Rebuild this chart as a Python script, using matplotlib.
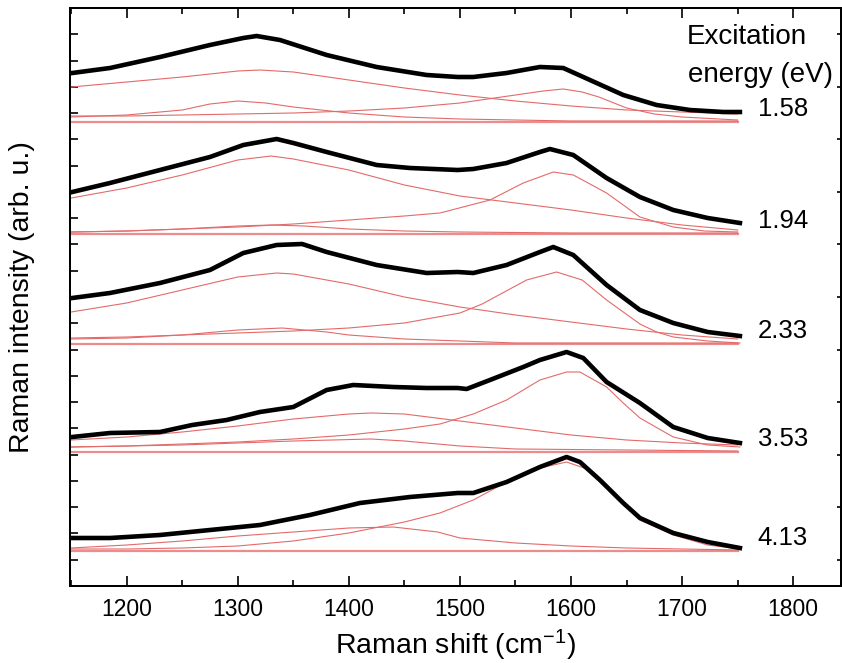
import matplotlib
matplotlib.use('Agg')
import matplotlib.pyplot as plt
import numpy as np
from matplotlib.ticker import MultipleLocator, FixedLocator, NullFormatter

plt.rcParams['font.family'] = ['Liberation Sans', 'DejaVu Sans']
plt.rcParams['mathtext.default'] = 'regular'

# ---------------- data ----------------
energies = ['1.58', '1.94', '2.33', '3.53', '4.13']
offsets = [464, 352, 242, 134, 35]

# measured spectra (intensity above each baseline, arb. u.)
x_158 = [1151, 1185, 1230, 1275, 1305, 1317, 1338, 1380, 1425, 1470, 1498, 1512, 1542, 1572, 1593, 1617, 1647, 1677, 1707, 1737, 1752]
y_158 = [49, 54, 65, 77, 84, 86, 82, 67, 55, 47, 45, 45, 49, 55, 54, 42, 27, 17, 12, 10, 10]
x_194 = [1151, 1185, 1230, 1275, 1305, 1335, 1350, 1380, 1425, 1455, 1498, 1512, 1542, 1572, 1581, 1602, 1632, 1662, 1692, 1723, 1752]
y_194 = [42, 51, 64, 77, 89, 95, 91, 82, 69, 66, 64, 65, 71, 82, 85, 79, 56, 37, 24, 16, 11]
x_233 = [1151, 1185, 1230, 1275, 1305, 1335, 1358, 1380, 1425, 1470, 1498, 1512, 1542, 1572, 1584, 1602, 1632, 1662, 1692, 1723, 1752]
y_233 = [46, 51, 61, 74, 91, 99, 100, 92, 79, 71, 72, 71, 79, 92, 97, 89, 59, 34, 21, 12, 8]
x_353 = [1151, 1185, 1230, 1259, 1290, 1320, 1350, 1380, 1404, 1440, 1470, 1498, 1506, 1527, 1557, 1572, 1596, 1611, 1632, 1662, 1692, 1723, 1752]
y_353 = [15, 19, 20, 27, 32, 40, 45, 62, 67, 65, 64, 64, 63, 72, 85, 92, 100, 94, 70, 49, 25, 14, 9]
x_413 = [1151, 1185, 1230, 1275, 1320, 1365, 1410, 1455, 1498, 1512, 1542, 1572, 1596, 1608, 1626, 1647, 1662, 1692, 1723, 1752]
y_413 = [13, 13, 16, 21, 26, 36, 48, 54, 58, 58, 69, 84, 94, 89, 71, 48, 33, 18, 9, 3]

# fitted components
broad158_x = [1150, 1200, 1250, 1300, 1320, 1350, 1400, 1450, 1500, 1550, 1600, 1650, 1700, 1750]
broad158_y = [35, 40, 45, 51, 52, 50, 42, 34, 27, 21, 16, 12, 10, 8]
d158_x = [1150, 1200, 1250, 1275, 1300, 1325, 1350, 1400, 1450, 1500, 1550, 1600, 1650, 1700, 1750]
d158_y = [5, 7, 12, 18, 21, 19, 15, 9, 5, 3, 2, 1, 1, 1, 1]
g158_x = [1150, 1200, 1250, 1300, 1350, 1400, 1450, 1500, 1550, 1575, 1593, 1610, 1625, 1650, 1675, 1700, 1750]
g158_y = [6, 6, 7, 8, 9, 11, 14, 19, 27, 31, 33, 30, 25, 14, 8, 5, 2]

broad194_x = [1150, 1200, 1250, 1300, 1330, 1350, 1400, 1450, 1500, 1550, 1600, 1650, 1700, 1750]
broad194_y = [36, 46, 59, 74, 78, 75, 64, 49, 38, 31, 24, 16, 9, 4]
d194_x = [1150, 1200, 1250, 1300, 1330, 1360, 1400, 1450, 1500, 1600, 1750]
d194_y = [2, 3, 5, 8, 9, 8, 5, 3, 2, 1, 1]
g194_x = [1150, 1200, 1250, 1300, 1350, 1400, 1450, 1482, 1527, 1557, 1584, 1602, 1632, 1662, 1692, 1720, 1750]
g194_y = [2, 3, 5, 7, 10, 14, 18, 21, 34, 51, 62, 59, 41, 17, 7, 3, 2]

broad233_x = [1150, 1200, 1250, 1300, 1335, 1350, 1400, 1450, 1500, 1550, 1600, 1650, 1700, 1750]
broad233_y = [32, 41, 54, 67, 71, 70, 60, 47, 37, 29, 22, 15, 9, 5]
d233_x = [1150, 1200, 1250, 1300, 1340, 1380, 1400, 1450, 1500, 1550, 1750]
d233_y = [5, 6, 9, 14, 16, 12, 9, 5, 3, 1, 1]
g233_x = [1150, 1200, 1250, 1300, 1350, 1400, 1450, 1500, 1520, 1540, 1560, 1587, 1610, 1632, 1647, 1662, 1677, 1692, 1723, 1752]
g233_y = [6, 7, 9, 11, 13, 16, 21, 31, 40, 52, 64, 72, 64, 44, 32, 20, 12, 7, 3, 1]

m353_x = [1150, 1200, 1250, 1300, 1350, 1400, 1420, 1450, 1500, 1550, 1600, 1650, 1700, 1750]
m353_y = [12, 15, 20, 26, 33, 38, 39, 38, 31, 24, 17, 12, 9, 7]
d353_x = [1150, 1200, 1250, 1300, 1350, 1420, 1450, 1500, 1550, 1750]
d353_y = [5, 6, 7, 9, 11, 13, 11, 6, 3, 1]
g353_x = [1150, 1200, 1250, 1300, 1350, 1400, 1450, 1482, 1512, 1542, 1572, 1596, 1608, 1632, 1647, 1662, 1692, 1723, 1752]
g353_y = [5, 6, 8, 10, 13, 17, 23, 28, 38, 52, 72, 80, 80, 65, 49, 34, 15, 7, 5]

m413_x = [1150, 1200, 1250, 1300, 1350, 1400, 1440, 1480, 1500, 1550, 1600, 1650, 1700, 1750]
m413_y = [3, 6, 10, 15, 19, 23, 24, 19, 13, 8, 5, 3, 2, 1]
g413_x = [1150, 1200, 1250, 1300, 1350, 1400, 1450, 1482, 1512, 1542, 1572, 1596, 1617, 1632, 1647, 1662, 1692, 1723, 1752]
g413_y = [2, 2, 3, 5, 10, 18, 29, 38, 51, 69, 83, 89, 81, 64, 48, 31, 16, 6, 2]

spectra_x = [x_158, x_194, x_233, x_353, x_413]
spectra_y = [y_158, y_194, y_233, y_353, y_413]
components = [
    [(broad158_x, broad158_y), (d158_x, d158_y), (g158_x, g158_y)],
    [(broad194_x, broad194_y), (d194_x, d194_y), (g194_x, g194_y)],
    [(broad233_x, broad233_y), (d233_x, d233_y), (g233_x, g233_y)],
    [(m353_x, m353_y), (d353_x, d353_y), (g353_x, g353_y)],
    [(m413_x, m413_y), (g413_x, g413_y)],
]

# ---------------- figure ----------------
W, H = 842, 663
fig = plt.figure(figsize=(W / 100, H / 100), dpi=100)
ax = fig.add_axes([70 / W, (H - 586) / H, 771 / W, 578 / H])

red = '#e46a6a'
base_red = '#ec8c8c'
for i in range(5):
    off = offsets[i]
    ax.plot([1150, 1750], [off, off], color=base_red, lw=1.6, zorder=1)
    for cx, cy in components[i]:
        ax.plot(cx, np.asarray(cy) + off, color=red, lw=0.8, zorder=2)
    ax.plot(spectra_x[i], np.asarray(spectra_y[i]) + off, color='black', lw=3.3,
            solid_joinstyle='round', zorder=3)
    ax.text(1768, off + 13, energies[i], fontsize=18.5, ha='left', va='center')

ax.text(1704, 549, 'Excitation', fontsize=20, ha='left', va='center')
ax.text(1705, 511, 'energy (eV)', fontsize=20, ha='left', va='center')

ax.set_xlim(1149, 1843)
ax.set_ylim(0, 578)

ax.xaxis.set_major_locator(MultipleLocator(100))
ax.xaxis.set_minor_locator(MultipleLocator(50))
ystep = 578 / 22
ax.yaxis.set_major_locator(FixedLocator([ystep * k for k in range(23)]))
ax.yaxis.set_major_formatter(NullFormatter())

ax.tick_params(axis='x', which='both', direction='in', top=True, bottom=True,
               labelsize=16.5, pad=9, width=1.2)
ax.tick_params(axis='x', which='major', length=7.5)
ax.tick_params(axis='x', which='minor', length=4.5)
ax.tick_params(axis='y', which='both', direction='in', left=True, right=False,
               length=5.5, width=1.2)

ax2 = ax.twinx()
ax2.set_ylim(0, 578)
ax2.yaxis.set_major_locator(FixedLocator([ystep * k for k in range(1, 23, 2)]))
ax2.yaxis.set_major_formatter(NullFormatter())
ax2.tick_params(axis='y', direction='in', length=3, width=1.2)

for a in (ax, ax2):
    for s in a.spines.values():
        s.set_linewidth(1.4)

ax.set_xlabel('Raman shift (cm$^{-1}$)', fontsize=20.5, va='center')
ax.xaxis.set_label_coords(0.5, -0.102)
ax.set_ylabel('Raman intensity (arb. u.)', fontsize=20.5, va='center')
ax.yaxis.set_label_coords(-0.062, 0.5)

fig.savefig('out.png', dpi=100)
